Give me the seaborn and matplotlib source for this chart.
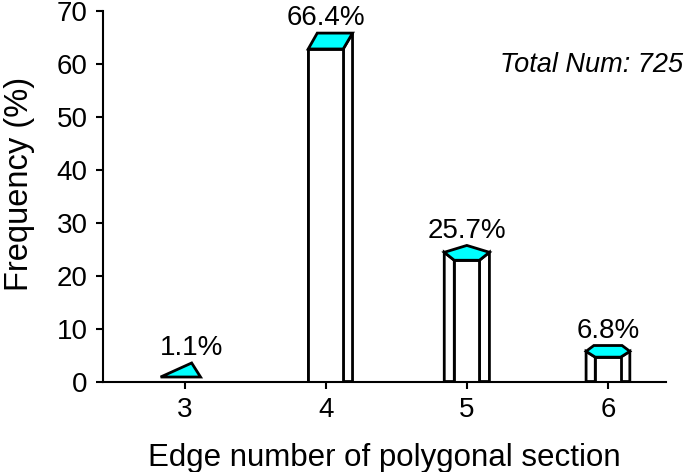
import matplotlib
matplotlib.use("Agg")
import matplotlib.pyplot as plt
import seaborn as sns

# data
edges = ["3", "4", "5", "6"]
freq = [1.1, 66.4, 25.7, 6.8]
freq_labels = ["1.1%", "66.4%", "25.7%", "6.8%"]
total_num = 725

# cap polygon for each prism: (dx in category units, dy in % from the value)
caps = {
    "3": [(-0.17, -0.25), (0.05, 2.4), (0.113, -0.25)],
    "4": [(-0.124, -3.6), (0.124, -3.6), (0.19, -0.6), (-0.06, -0.6)],
    "5": [(-0.16, -1.3), (0.0, 0.0), (0.16, -1.3), (0.089, -2.8), (-0.089, -2.8)],
    "6": [(-0.155, -1.1), (-0.1, 0.0), (0.1, 0.0), (0.155, -1.1), (0.09, -2.2), (-0.09, -2.2)],
}
# cap vertices that drop a visible edge to the floor, left to right
walls = {"3": [], "4": [0, 1, 2], "5": [0, 4, 3, 2], "6": [0, 5, 4, 3]}
# the two vertices bounding the front face
fronts = {"3": None, "4": (0, 1), "5": (4, 3), "6": (5, 4)}
# horizontal nudge of each value label
label_dx = {"3": 0.05, "4": 0.0, "5": 0.0, "6": 0.0}

sns.set_style("ticks")
plt.rcParams["font.family"] = ["Liberation Sans", "DejaVu Sans"]
plt.rcParams["text.color"] = "black"
plt.rcParams["axes.labelcolor"] = "black"
plt.rcParams["xtick.color"] = "black"
plt.rcParams["ytick.color"] = "black"

fig = plt.figure(figsize=(6.85, 4.72), dpi=100)
ax = fig.add_axes([0.150, 0.1917, 0.822, 0.7853])

front_h = []
for e, v in zip(edges, freq):
    f = fronts[e]
    front_h.append(v + caps[e][f[0]][1] if f else 0)

sns.barplot(x=edges, y=front_h, color="white", edgecolor="black",
            linewidth=2, width=0.2, saturation=1, ax=ax, zorder=3)

for i, (p, e) in enumerate(zip(ax.patches, edges)):
    f = fronts[e]
    if f is None:
        p.set_width(0)
        p.set_visible(False)
        continue
    x0 = i + caps[e][f[0]][0]
    x1 = i + caps[e][f[1]][0]
    p.set_x(x0)
    p.set_width(x1 - x0)

for i, (e, v) in enumerate(zip(edges, freq)):
    pts = caps[e]
    w = walls[e]
    for a, b in zip(w[:-1], w[1:]):
        xa, ya = i + pts[a][0], v + pts[a][1]
        xb, yb = i + pts[b][0], v + pts[b][1]
        ax.fill([xa, xa, xb, xb], [0, ya, yb, 0], facecolor="white",
                edgecolor="black", lw=2, zorder=2)
    xs = [i + dx for dx, dy in pts]
    ys = [v + dy for dx, dy in pts]
    ax.fill(xs, ys, facecolor="#00ffff", edgecolor="black", lw=2,
            zorder=4, joinstyle="miter")
    ax.annotate(freq_labels[i], (i + label_dx[e], max(ys)), xytext=(0, 5.5),
                textcoords="offset points", ha="center", va="baseline",
                fontsize=20, zorder=5)

ax.text(1.03, 0.855, f"Total Num: {total_num}", transform=ax.transAxes,
        ha="right", va="center", fontsize=19.5, style="italic", clip_on=False)

ax.set_ylim(0, 70)
ax.set_xlim(-0.58, 3.41)
ax.set_yticks(range(0, 71, 10))
ax.set_xlabel("Edge number of polygonal section", fontsize=22.5)
ax.set_ylabel("Frequency (%)", fontsize=23.5)
ax.xaxis.set_label_coords(0.5, -0.165)
ax.yaxis.set_label_coords(-0.121, 0.532)
ax.tick_params(axis="both", labelsize=20, width=1.5, length=5, pad=6,
               direction="out")
sns.despine(ax=ax)
for s in ["left", "bottom"]:
    ax.spines[s].set_linewidth(1.5)
    ax.spines[s].set_color("black")
    ax.spines[s].set_zorder(6)

fig.savefig("out.png", dpi=100)
